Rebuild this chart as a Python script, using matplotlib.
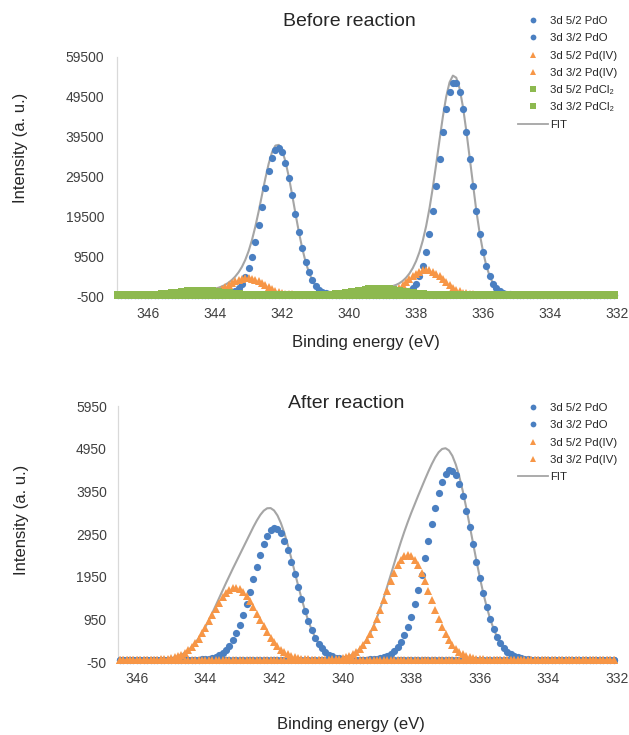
import numpy as np
import matplotlib
matplotlib.use("Agg")
import matplotlib.pyplot as plt
from matplotlib.lines import Line2D

plt.rcParams["font.family"] = ["Liberation Sans", "DejaVu Sans"]
plt.rcParams["axes.unicode_minus"] = False

# ---------------- data ----------------
# Pd 3d fit components: position (eV), height (a.u.), FWHM (eV)
before_labels = ["3d 5/2 PdO", "3d 3/2 PdO", "3d 5/2 Pd(IV)", "3d 3/2 Pd(IV)",
                 "3d 5/2 PdCl\u2082", "3d 3/2 PdCl\u2082"]
before_centers = [336.85, 342.12, 337.70, 343.05, 339.10, 344.45]
before_heights = [53300, 36800, 6300, 4300, 1600, 1100]
before_fwhm = [1.12, 1.12, 1.20, 1.20, 1.40, 1.40]
before_range = (346.9, 332.1)

after_labels = ["3d 5/2 PdO", "3d 3/2 PdO", "3d 5/2 Pd(IV)", "3d 3/2 Pd(IV)"]
after_centers = [336.86, 341.98, 338.10, 343.14]
after_heights = [4450, 3090, 2460, 1690]
after_fwhm = [1.56, 1.47, 1.55, 1.60]
after_range = (346.5, 332.1)

x_ticks = [346, 344, 342, 340, 338, 336, 334, 332]
before_yticks = [-500, 9500, 19500, 29500, 39500, 49500, 59500]
after_yticks = [-50, 950, 1950, 2950, 3950, 4950, 5950]

# ---------------- style ----------------
BLUE = "#4A7FC1"
ORANGE = "#F79646"
GREEN = "#8DB94F"
FIT = "#A5A5A5"
styles = [(BLUE, "o", 5.2), (BLUE, "o", 5.2), (ORANGE, "^", 5.8),
          (ORANGE, "^", 5.8), (GREEN, "s", 5.6), (GREEN, "s", 5.6)]

W, H = 629, 735
fig = plt.figure(figsize=(W / 100, H / 100), dpi=100)


def rect(l, r, t, b):
    return [l / W, 1 - b / H, (r - l) / W, (b - t) / H]


def component(e, c, h, fw):
    s = fw / (2 * np.sqrt(2 * np.log(2)))
    return h * np.exp(-0.5 * ((e - c) / s) ** 2)


def panel(box, xlim, ylim, yticks, erange, labels, centers, heights, fwhm,
          title, title_xy, xlabel_xy, ylabel_xy, legend_xy, ypad):
    ax = fig.add_axes(rect(*box))
    energy = np.round(np.arange(erange[0] * 10, erange[1] * 10 - 0.5, -1) / 10, 1)
    total = np.zeros_like(energy)
    handles = []
    for i, lab in enumerate(labels):
        y = component(energy, centers[i], heights[i], fwhm[i])
        total += y
        col, mk, ms = styles[i]
        ax.plot(energy, y, linestyle="none", marker=mk, ms=ms, color=col,
                markeredgewidth=0, zorder=3 + i, clip_on=False)
        handles.append(Line2D([], [], linestyle="none", marker=mk, ms=ms * 0.8,
                              color=col, markeredgewidth=0, label=lab))
    ax.plot(energy, total, color=FIT, lw=1.5, zorder=2)
    handles.append(Line2D([], [], color=FIT, lw=1.3, label="FIT"))

    ax.set_xlim(*xlim)
    ax.set_ylim(*ylim)
    ax.set_xticks(x_ticks)
    ax.set_yticks(yticks)
    ax.tick_params(length=0, labelsize=10, labelcolor="#404040")
    ax.tick_params(axis="x", pad=7)
    ax.tick_params(axis="y", pad=ypad)
    for side in ["top", "right", "bottom"]:
        ax.spines[side].set_visible(False)
    ax.spines["left"].set_color("#D9D9D9")
    ax.spines["left"].set_linewidth(0.9)

    fig.text(title_xy[0] / W, 1 - title_xy[1] / H, title, fontsize=14,
             color="#262626", ha="center", va="center")
    fig.text(xlabel_xy[0] / W, 1 - xlabel_xy[1] / H, "Binding energy (eV)",
             fontsize=12, color="#262626", ha="center", va="center")
    fig.text(ylabel_xy[0] / W, 1 - ylabel_xy[1] / H, "Intensity (a. u.)",
             fontsize=12, color="#262626", ha="center", va="center",
             rotation=90)

    fig.legend(handles=handles, loc="upper left",
               bbox_to_anchor=(legend_xy[0] / W, 1 - legend_xy[1] / H),
               frameon=False, fontsize=8.2, handlelength=2.65, handletextpad=0.2,
               labelspacing=0.64, borderpad=0, borderaxespad=0,
               labelcolor="#262626")
    return ax


panel((117, 617, 57, 297), (346.93, 332.0), (-500, 59500), before_yticks,
      before_range, before_labels, before_centers, before_heights, before_fwhm,
      "Before reaction", (349, 22), (366, 342), (21, 148), (518, 16), 9)

panel((118, 617, 406, 662), (346.55, 332.0), (-50, 5950), after_yticks,
      after_range, after_labels, after_centers, after_heights, after_fwhm,
      "After reaction", (346, 404), (351, 724), (22, 520), (518, 403), 8)

fig.savefig("out.png", dpi=100, facecolor="white")
